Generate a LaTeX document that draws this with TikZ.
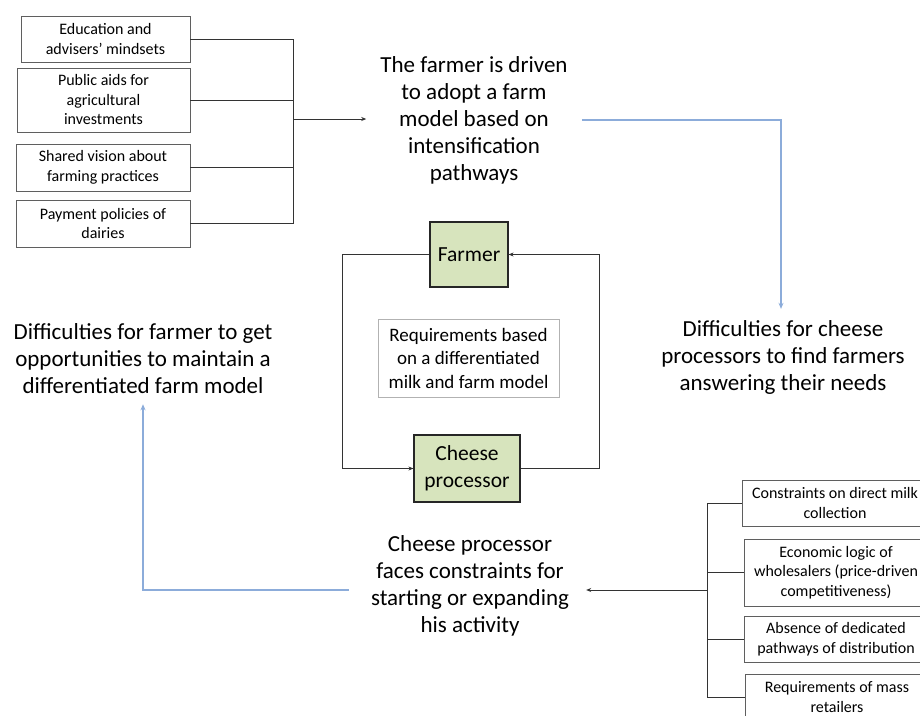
\documentclass[tikz,border=0pt]{standalone}
\usepackage{fontspec}
\setmainfont{Carlito}
\usetikzlibrary{arrows.meta,calc}
\definecolor{boxgreen}{RGB}{215,228,189}
\definecolor{lineblue}{RGB}{140,172,218}
\definecolor{boxedge}{RGB}{95,95,95}
\tikzset{
  small/.style={font=\fontsize{16}{19.5}\selectfont, align=center},
  big/.style={font=\fontsize{23}{27}\selectfont, align=center, inner sep=0pt},
  factor/.style={draw=boxedge, line width=0.7pt, small, inner sep=0pt},
  actor/.style={draw=black!85, line width=1.2pt, fill=boxgreen, font=\fontsize{21.5}{27}\selectfont, align=center, inner sep=0pt},
  conn/.style={draw=black!80, line width=0.8pt},
  arr/.style={conn, -{Stealth[length=5pt,width=4pt]}},
  barr/.style={draw=lineblue, line width=1.4pt, -{Stealth[length=6pt,width=5pt]}}
}
\begin{document}
\begin{tikzpicture}[x=1pt,y=-1pt]
\useasboundingbox (0,0) rectangle (920,715);
\clip (0,0) rectangle (920,715);
% left factor boxes
\node[factor, minimum width=169pt, minimum height=46pt] (e1) at (105.5,39) {Education and\\advisers’ mindsets};
\node[factor, minimum width=173pt, minimum height=64pt] (e2) at (103.5,100) {Public aids for\\agricultural\\investments};
\node[factor, minimum width=174pt, minimum height=47pt] (e3) at (103,167.5) {Shared vision about\\farming practices};
\node[factor, minimum width=174pt, minimum height=47pt] (e4) at (103,223.5) {Payment policies of\\dairies};
% main texts
\node[big] (top) at (474,120) {The farmer is driven\\to adopt a farm\\model based on\\intensification\\pathways};
\node[big] (rdiff) at (783,357) {Difficulties for cheese\\processors to find farmers\\answering their needs};
\node[big] (ldiff) at (143,359) {Difficulties for farmer to get\\opportunities to maintain a\\differentiated farm model};
\node[big] (bottom) at (470,586) {Cheese processor\\faces constraints for\\starting or expanding\\his activity};
% actors
\node[actor, minimum width=78pt, minimum height=65pt] (farmer) at (469,254.5) {Farmer};
\node[actor, minimum width=106pt, minimum height=67pt] (cheese) at (467,468.5) {Cheese\\processor};
\node[draw=gray!60, line width=0.7pt, font=\fontsize{19}{23.5}\selectfont, align=center, inner sep=0pt, minimum width=181pt, minimum height=78pt] (req) at (468.5,358) {Requirements based\\on a differentiated\\milk and farm model};
% right constraint boxes
\node[factor, minimum width=186pt, minimum height=46pt] (c1) at (835,503) {Constraints on direct milk\\collection};
\node[factor, minimum width=184pt, minimum height=67pt] (c2) at (836,572.5) {Economic logic of\\wholesalers (price-driven\\competitiveness)};
\node[factor, minimum width=184pt, minimum height=46pt] (c3) at (836,639) {Absence of dedicated\\pathways of distribution};
\node[factor, minimum width=184pt, minimum height=46pt] (c4) at (837,697) {Requirements of mass\\retailers};
% left bus
\coordinate (busL) at (293,119);
\draw[conn] (e1.east) -- (e1.east -| busL) -- (e4.east -| busL) -- (e4.east);
\draw[conn] (e2.east) -- (e2.east -| busL);
\draw[conn] (e3.east) -- (e3.east -| busL);
\draw[arr] (busL) -- ($(busL -| top.west)+(-14,0)$);
% blue top arrow
\draw[barr] ($(top.east |- busL)+(14,1)$) -| ($(rdiff.north)+(-2,-11)$);
% loop
\draw[arr] (farmer.west) -- ++(-87,0) |- (cheese.west);
\draw[arr] (cheese.east) -- ++(79,0) |- (farmer.east);
% right bus
\coordinate (busR) at (707,590);
\draw[conn] (c1.west) -- (c1.west -| busR) -- (c4.west -| busR) -- (c4.west);
\draw[conn] (c2.west) -- (c2.west -| busR);
\draw[conn] (c3.west) -- (c3.west -| busR);
\draw[arr] (busR) -- ($(busR -| bottom.east)+(17,0)$);
% blue bottom arrow
\draw[barr] ($(bottom.west |- busR)+(-22,0)$) -| ($(ldiff.south)+(0,10)$);
\end{tikzpicture}
\end{document}
